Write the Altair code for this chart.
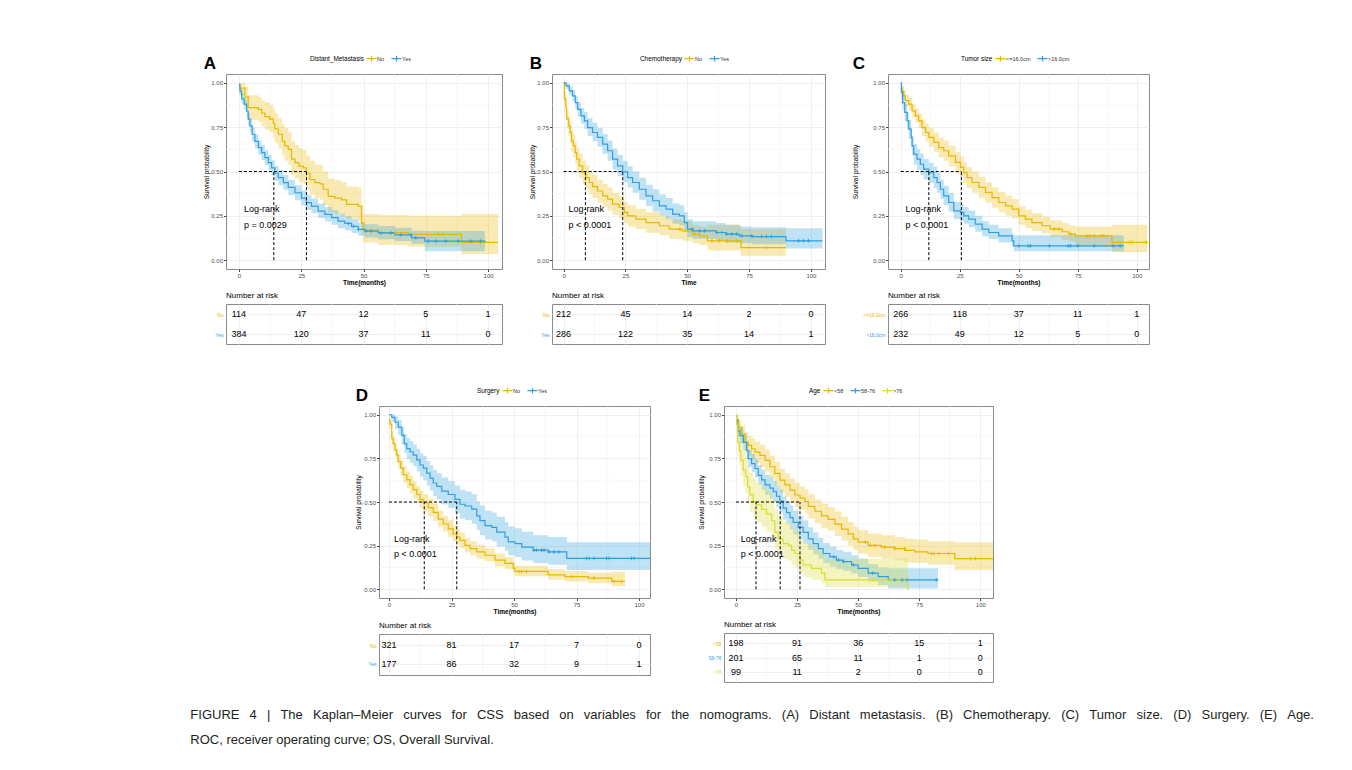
import json
import bisect
import altair as alt
import pandas as pd

FONT = "Liberation Sans"
ORANGE = "#E7B800"
BLUE = "#2E9FDF"
YELLOW = "#DCDC30"

X_TICKS = [0, 25, 50, 75, 100]
Y_TICKS = [0.0, 0.25, 0.50, 0.75, 1.0]
X_MINOR = [12.5, 37.5, 62.5, 87.5]
Y_MINOR = [0.125, 0.375, 0.625, 0.875]
RISK_TIMES = [0, 25, 50, 75, 100]
LOGRANK_X = 2.0
LOGRANK_Y = [0.29, 0.20]
Y_DOMAIN = [-0.05, 1.05]

# ---------------- Panel A : Distant_Metastasis ----------------
A_GROUPS = ["No", "Yes"]
A_NO_T = [0, 2.4, 3.7, 7.8, 9.1, 10.4, 12.4, 13.8, 14.4, 15.8, 17.4, 18.4, 19.8, 21.1, 22.5, 24.1, 25.8, 27.1, 28.5, 30.5,
          32.5, 33.8, 35.8, 38.5, 41.2, 43.2, 47.9, 49.2, 49.9, 55.9, 67.9, 89.3, 104]
A_NO_S = [0.97, 0.92, 0.86, 0.85, 0.83, 0.81, 0.795, 0.77, 0.74, 0.71, 0.67, 0.645, 0.625, 0.57, 0.55, 0.53, 0.52, 0.49,
          0.455, 0.437, 0.43, 0.40, 0.36, 0.35, 0.34, 0.315, 0.305, 0.21, 0.17, 0.155, 0.145, 0.10, 0.10]
A_NO_HI = [1.0, 0.98, 0.93, 0.92, 0.90, 0.89, 0.875, 0.855, 0.83, 0.80, 0.765, 0.745, 0.725, 0.67, 0.65, 0.63, 0.62, 0.59,
           0.56, 0.54, 0.535, 0.50, 0.46, 0.45, 0.44, 0.415, 0.41, 0.31, 0.26, 0.255, 0.25, 0.26, 0.26]
A_NO_LO = [0.93, 0.87, 0.79, 0.78, 0.755, 0.735, 0.72, 0.69, 0.66, 0.63, 0.59, 0.56, 0.54, 0.48, 0.46, 0.44, 0.43, 0.40,
           0.37, 0.35, 0.34, 0.31, 0.27, 0.26, 0.25, 0.23, 0.22, 0.14, 0.10, 0.085, 0.075, 0.035, 0.035]
A_YES_T = [0, 0.4, 1.1, 2.1, 3.1, 3.7, 4.4, 5.3, 6.4, 7.8, 9.1, 10.4, 11.8, 13.1, 14.4, 15.8, 17.8, 19.8, 22.5, 25.1,
           27.1, 29.1, 31.8, 34.5, 37.2, 39.8, 42.5, 45.2, 47.9, 50.5, 55.9, 62.6, 69.3, 74.6, 98.7]
A_YES_S = [0.99, 0.955, 0.91, 0.88, 0.84, 0.795, 0.757, 0.71, 0.67, 0.635, 0.606, 0.578, 0.55, 0.52, 0.49, 0.465, 0.437,
           0.41, 0.38, 0.35, 0.324, 0.305, 0.277, 0.258, 0.24, 0.22, 0.207, 0.19, 0.173, 0.164, 0.154, 0.143, 0.126, 0.107, 0.10]
A_YES_HI = [1.0, 0.975, 0.94, 0.91, 0.875, 0.83, 0.795, 0.75, 0.71, 0.675, 0.648, 0.62, 0.593, 0.563, 0.533, 0.508, 0.48,
            0.453, 0.423, 0.393, 0.367, 0.348, 0.32, 0.30, 0.282, 0.262, 0.248, 0.23, 0.213, 0.203, 0.193, 0.183, 0.166, 0.165, 0.165]
A_YES_LO = [0.98, 0.935, 0.88, 0.85, 0.805, 0.76, 0.72, 0.67, 0.63, 0.595, 0.565, 0.537, 0.508, 0.478, 0.448, 0.423, 0.395,
            0.368, 0.338, 0.308, 0.283, 0.265, 0.237, 0.218, 0.20, 0.18, 0.168, 0.152, 0.137, 0.128, 0.118, 0.108, 0.092, 0.05, 0.05]
A_NO_CENS = [63, 80, 82, 97]
A_YES_CENS = [44, 46, 48, 51, 53, 57, 61, 65, 69, 71, 76, 79, 83, 88, 93, 97]
A_MEDIANS = [27.1, 14.0]
A_P = "p = 0.0029"
A_RISK = [[114, 47, 12, 5, 1], [384, 120, 37, 11, 0]]

# ---------------- Panel B : Chemotherapy ----------------
B_GROUPS = ["No", "Yes"]
B_NO_T = [0, 0.3, 0.9, 1.2, 2.0, 2.6, 3.2, 3.9, 4.7, 5.3, 6.3, 7.7, 9.0, 10.4, 11.7, 13.7, 15.8, 17.8, 19.8, 22.5,
          24.5, 25.9, 29.2, 33.3, 38.7, 42.7, 48.1, 52.2, 54.9, 58.2, 71.7, 89.9]
B_NO_S = [1.0, 0.91, 0.86, 0.795, 0.757, 0.72, 0.673, 0.645, 0.607, 0.57, 0.532, 0.494, 0.466, 0.438, 0.415, 0.39, 0.363,
          0.344, 0.316, 0.297, 0.269, 0.25, 0.231, 0.212, 0.194, 0.175, 0.165, 0.147, 0.137, 0.109, 0.071, 0.071]
B_NO_HI = [1.0, 0.95, 0.91, 0.85, 0.815, 0.78, 0.735, 0.71, 0.67, 0.635, 0.60, 0.56, 0.535, 0.505, 0.48, 0.455, 0.43,
           0.41, 0.38, 0.36, 0.33, 0.31, 0.29, 0.27, 0.25, 0.23, 0.22, 0.20, 0.19, 0.20, 0.175, 0.175]
B_NO_LO = [1.0, 0.87, 0.81, 0.74, 0.70, 0.66, 0.61, 0.58, 0.545, 0.505, 0.465, 0.43, 0.40, 0.37, 0.35, 0.325, 0.30,
           0.28, 0.255, 0.235, 0.21, 0.19, 0.175, 0.155, 0.14, 0.12, 0.11, 0.095, 0.085, 0.055, 0.025, 0.025]
B_YES_T = [0, 0.9, 2.3, 3.6, 4.7, 5.7, 7.0, 8.4, 9.7, 11.7, 13.7, 15.8, 17.8, 19.8, 21.8, 23.9, 25.9, 27.9, 30.6, 33.3,
           36.0, 38.7, 41.4, 44.1, 46.8, 48.8, 50.1, 52.2, 61.6, 65.6, 71.0, 76.4, 89.9, 104.7]
B_YES_S = [1.0, 0.983, 0.955, 0.927, 0.889, 0.85, 0.814, 0.786, 0.748, 0.72, 0.692, 0.654, 0.617, 0.57, 0.532, 0.498,
           0.466, 0.438, 0.40, 0.363, 0.335, 0.306, 0.288, 0.26, 0.25, 0.212, 0.175, 0.165, 0.156, 0.147, 0.137, 0.133, 0.109, 0.109]
B_YES_HI = [1.0, 1.0, 0.98, 0.96, 0.925, 0.89, 0.86, 0.835, 0.80, 0.775, 0.745, 0.71, 0.675, 0.63, 0.595, 0.56, 0.53, 0.50,
            0.465, 0.425, 0.40, 0.37, 0.35, 0.32, 0.31, 0.27, 0.23, 0.22, 0.21, 0.20, 0.19, 0.185, 0.18, 0.18]
B_YES_LO = [1.0, 0.965, 0.93, 0.895, 0.85, 0.81, 0.77, 0.74, 0.70, 0.67, 0.64, 0.60, 0.56, 0.51, 0.475, 0.44, 0.41, 0.38,
            0.34, 0.305, 0.275, 0.25, 0.23, 0.205, 0.195, 0.16, 0.13, 0.12, 0.11, 0.10, 0.095, 0.09, 0.065, 0.065]
B_NO_CENS = [47, 53, 60, 63, 66, 70, 82]
B_YES_CENS = [52, 55, 57, 62, 64, 66, 68, 70, 72, 76, 80, 82, 84, 95, 97, 99]
B_MEDIANS = [8.8, 23.9]
B_P = "p < 0.0001"
B_RISK = [[212, 45, 14, 2, 0], [286, 122, 35, 14, 1]]

# ---------------- Panel C : Tumor size ----------------
C_GROUPS = ["<=16.0cm", ">16.0cm"]
C_SMALL_T = [0, 0.6, 1.3, 2.0, 3.4, 4.8, 6.2, 7.6, 9.0, 10.5, 11.9, 14.0, 16.1, 18.2, 20.3, 23.2, 25.3, 26.7, 28.1, 30.2,
             33.1, 35.9, 38.7, 41.5, 44.4, 47.2, 50.0, 52.8, 55.6, 59.9, 63.4, 68.4, 71.2, 74.0, 89.5, 104.5]
C_SMALL_S = [0.97, 0.955, 0.927, 0.90, 0.88, 0.842, 0.814, 0.786, 0.748, 0.72, 0.692, 0.664, 0.635, 0.617, 0.588, 0.551,
             0.523, 0.494, 0.466, 0.438, 0.41, 0.382, 0.353, 0.325, 0.306, 0.288, 0.25, 0.231, 0.212, 0.194, 0.175, 0.16,
             0.147, 0.137, 0.10, 0.10]
C_SMALL_HI = [1.0, 0.98, 0.955, 0.935, 0.915, 0.88, 0.855, 0.83, 0.795, 0.77, 0.745, 0.72, 0.69, 0.675, 0.645, 0.61, 0.585,
              0.555, 0.525, 0.50, 0.47, 0.44, 0.41, 0.385, 0.365, 0.345, 0.305, 0.285, 0.265, 0.245, 0.225, 0.21, 0.195,
              0.19, 0.20, 0.20]
C_SMALL_LO = [0.94, 0.93, 0.90, 0.865, 0.845, 0.805, 0.775, 0.745, 0.70, 0.67, 0.64, 0.61, 0.58, 0.56, 0.53, 0.49, 0.465,
              0.435, 0.405, 0.38, 0.35, 0.325, 0.295, 0.27, 0.25, 0.235, 0.20, 0.18, 0.165, 0.15, 0.13, 0.115, 0.105,
              0.075, 0.045, 0.045]
C_BIG_T = [0, 0.3, 0.8, 1.7, 2.7, 3.4, 4.4, 4.8, 5.5, 6.9, 8.3, 9.7, 11.9, 14.0, 15.4, 16.8, 18.2, 20.3, 22.5, 25.3,
           26.7, 28.8, 31.6, 34.5, 37.3, 41.5, 47.2, 47.9, 94.5]
C_BIG_S = [1.0, 0.946, 0.889, 0.833, 0.786, 0.739, 0.692, 0.645, 0.598, 0.57, 0.541, 0.513, 0.494, 0.466, 0.438, 0.40,
           0.363, 0.325, 0.278, 0.269, 0.25, 0.231, 0.203, 0.175, 0.156, 0.137, 0.109, 0.081, 0.081]
C_BIG_HI = [1.0, 0.975, 0.93, 0.88, 0.835, 0.79, 0.745, 0.70, 0.655, 0.625, 0.60, 0.57, 0.55, 0.525, 0.495, 0.455, 0.42,
            0.38, 0.33, 0.32, 0.30, 0.28, 0.25, 0.22, 0.20, 0.18, 0.15, 0.14, 0.14]
C_BIG_LO = [1.0, 0.915, 0.845, 0.785, 0.735, 0.685, 0.635, 0.59, 0.54, 0.51, 0.48, 0.455, 0.435, 0.405, 0.38, 0.345, 0.31,
            0.275, 0.23, 0.22, 0.205, 0.185, 0.16, 0.135, 0.12, 0.10, 0.075, 0.05, 0.05]
C_SMALL_CENS = [65, 67, 72, 79, 80, 82, 85, 86, 97, 98, 104]
C_BIG_CENS = [50, 54, 55, 63, 71, 72, 75, 82, 90, 93]
C_MEDIANS = [25.7, 11.9]
C_P = "p < 0.0001"
C_RISK = [[266, 118, 37, 11, 1], [232, 49, 12, 5, 0]]

# ---------------- Panel D : Surgery ----------------
D_GROUPS = ["No", "Yes"]
D_NO_T = [0, 0.4, 1.1, 1.7, 2.4, 3.1, 3.7, 4.7, 5.7, 7.1, 8.4, 9.7, 11.1, 12.4, 13.7, 15.7, 17.7, 19.7, 21.7, 23.7,
          25.7, 27.1, 28.4, 30.4, 32.4, 35.1, 38.4, 42.4, 46.4, 49.7, 50.4, 63.7, 70.4, 79.7, 89.1, 94.4]
D_NO_S = [0.97, 0.947, 0.863, 0.835, 0.797, 0.769, 0.731, 0.694, 0.656, 0.628, 0.60, 0.571, 0.543, 0.515, 0.496, 0.468,
          0.44, 0.402, 0.374, 0.346, 0.318, 0.299, 0.28, 0.252, 0.233, 0.214, 0.195, 0.167, 0.148, 0.12, 0.102, 0.083,
          0.073, 0.064, 0.045, 0.045]
D_NO_HI = [1.0, 0.975, 0.90, 0.875, 0.84, 0.81, 0.775, 0.74, 0.705, 0.675, 0.65, 0.62, 0.59, 0.565, 0.545, 0.52, 0.49,
           0.45, 0.42, 0.395, 0.365, 0.345, 0.325, 0.295, 0.275, 0.255, 0.235, 0.205, 0.185, 0.155, 0.135, 0.115, 0.105,
           0.095, 0.10, 0.10]
D_NO_LO = [0.94, 0.92, 0.825, 0.795, 0.755, 0.725, 0.69, 0.65, 0.61, 0.58, 0.55, 0.52, 0.495, 0.465, 0.445, 0.42, 0.39,
           0.355, 0.33, 0.30, 0.275, 0.255, 0.235, 0.21, 0.195, 0.175, 0.16, 0.13, 0.115, 0.09, 0.075, 0.055, 0.045,
           0.035, 0.017, 0.017]
D_YES_T = [0, 1.1, 2.4, 3.7, 5.1, 6.1, 7.1, 8.4, 9.7, 11.1, 12.4, 13.7, 15.1, 16.4, 17.7, 19.1, 21.1, 23.7, 26.4, 28.4,
           30.4, 33.1, 35.1, 36.4, 38.4, 41.1, 43.1, 46.4, 47.7, 50.4, 53.1, 57.7, 63.7, 71.1, 104.4]
D_YES_S = [1.0, 0.985, 0.957, 0.929, 0.882, 0.835, 0.806, 0.788, 0.769, 0.741, 0.712, 0.694, 0.665, 0.637, 0.609, 0.59,
           0.562, 0.543, 0.515, 0.487, 0.477, 0.459, 0.421, 0.393, 0.365, 0.355, 0.327, 0.299, 0.271, 0.261, 0.242, 0.224,
           0.214, 0.177, 0.177]
D_YES_HI = [1.0, 1.0, 0.99, 0.97, 0.93, 0.89, 0.865, 0.85, 0.83, 0.805, 0.78, 0.765, 0.735, 0.71, 0.685, 0.665, 0.64,
            0.62, 0.595, 0.57, 0.56, 0.545, 0.505, 0.48, 0.45, 0.44, 0.415, 0.385, 0.36, 0.35, 0.33, 0.31, 0.30, 0.27, 0.27]
D_YES_LO = [1.0, 0.96, 0.92, 0.885, 0.83, 0.78, 0.745, 0.725, 0.705, 0.675, 0.645, 0.625, 0.595, 0.565, 0.535, 0.515,
            0.485, 0.465, 0.435, 0.405, 0.395, 0.375, 0.34, 0.31, 0.285, 0.275, 0.245, 0.22, 0.195, 0.185, 0.165, 0.15,
            0.14, 0.11, 0.11]
D_NO_CENS = [52, 53, 55, 73, 82, 90, 93]
D_YES_CENS = [58, 59, 61, 62, 64, 66, 68, 79, 80, 82, 87, 88, 97, 98]
D_MEDIANS = [14.1, 27.1]
D_P = "p < 0.0001"
D_RISK = [[321, 81, 17, 7, 0], [177, 86, 32, 9, 1]]

# ---------------- Panel E : Age ----------------
E_GROUPS = ["<58", "58-76", ">76"]
E_Y_T = [0, 1.0, 2.3, 3.7, 5.0, 6.4, 7.8, 9.8, 11.9, 13.9, 15.9, 18.0, 20.0, 22.1, 24.1, 26.2, 28.2, 29.6, 32.3, 35.0,
         37.7, 40.5, 43.2, 45.9, 48.0, 50.0, 54.1, 59.5, 65.0, 69.1, 73.2, 78.6, 89.5, 105.2]
E_Y_S = [0.97, 0.927, 0.89, 0.842, 0.824, 0.805, 0.786, 0.767, 0.739, 0.702, 0.664, 0.625, 0.598, 0.568, 0.54, 0.522,
         0.503, 0.475, 0.447, 0.42, 0.40, 0.373, 0.345, 0.317, 0.289, 0.27, 0.251, 0.242, 0.233, 0.223, 0.214, 0.205,
         0.176, 0.176]
E_Y_HI = [1.0, 0.97, 0.94, 0.90, 0.88, 0.865, 0.845, 0.83, 0.80, 0.765, 0.73, 0.69, 0.665, 0.635, 0.61, 0.59, 0.575,
          0.545, 0.515, 0.49, 0.47, 0.445, 0.415, 0.385, 0.36, 0.34, 0.32, 0.31, 0.30, 0.29, 0.285, 0.275, 0.27, 0.27]
E_Y_LO = [0.94, 0.885, 0.84, 0.785, 0.765, 0.745, 0.725, 0.70, 0.675, 0.635, 0.595, 0.555, 0.53, 0.50, 0.47, 0.455, 0.435,
          0.405, 0.38, 0.35, 0.335, 0.305, 0.28, 0.25, 0.225, 0.205, 0.185, 0.175, 0.165, 0.155, 0.15, 0.14, 0.11, 0.11]
E_M_T = [0, 0.7, 1.6, 3.0, 4.4, 5.0, 6.4, 7.8, 9.1, 10.5, 11.9, 13.9, 15.3, 16.6, 18.0, 19.3, 20.7, 22.1, 23.4, 25.5,
         27.5, 29.6, 31.6, 33.7, 35.7, 38.4, 41.1, 43.9, 47.3, 50.0, 54.1, 58.2, 62.3, 82.7]
E_M_S = [0.97, 0.908, 0.88, 0.842, 0.795, 0.749, 0.72, 0.692, 0.653, 0.627, 0.598, 0.58, 0.559, 0.533, 0.505, 0.465,
         0.439, 0.411, 0.383, 0.355, 0.326, 0.289, 0.261, 0.233, 0.205, 0.186, 0.167, 0.158, 0.139, 0.12, 0.092, 0.073,
         0.054, 0.054]
E_M_HI = [1.0, 0.95, 0.925, 0.89, 0.845, 0.80, 0.775, 0.745, 0.71, 0.685, 0.655, 0.64, 0.62, 0.595, 0.57, 0.53, 0.505,
          0.48, 0.45, 0.42, 0.395, 0.355, 0.325, 0.295, 0.265, 0.245, 0.225, 0.215, 0.195, 0.175, 0.145, 0.125, 0.12, 0.12]
E_M_LO = [0.94, 0.865, 0.835, 0.795, 0.745, 0.70, 0.67, 0.64, 0.60, 0.57, 0.54, 0.52, 0.50, 0.47, 0.44, 0.40, 0.375,
          0.345, 0.315, 0.29, 0.26, 0.225, 0.20, 0.175, 0.15, 0.13, 0.115, 0.105, 0.09, 0.07, 0.045, 0.025, 0.005, 0.005]
E_O_T = [0, 0.3, 0.7, 1.4, 2.0, 3.0, 4.0, 4.8, 5.7, 7.1, 8.4, 10.5, 12.5, 14.6, 15.9, 17.3, 19.3, 21.4, 22.8, 24.1,
         26.2, 27.5, 30.9, 35.0, 36.4, 70.4, 70.7]
E_O_S = [0.99, 0.946, 0.842, 0.795, 0.739, 0.683, 0.645, 0.587, 0.542, 0.503, 0.484, 0.458, 0.43, 0.392, 0.326, 0.289,
         0.261, 0.251, 0.223, 0.205, 0.167, 0.139, 0.12, 0.092, 0.054, 0.0, 0.0]
E_O_HI = [1.0, 1.0, 0.93, 0.89, 0.84, 0.79, 0.755, 0.705, 0.665, 0.63, 0.61, 0.585, 0.56, 0.52, 0.455, 0.42, 0.39, 0.38,
          0.35, 0.33, 0.29, 0.26, 0.24, 0.20, 0.175, 0.0, 0.0]
E_O_LO = [0.97, 0.89, 0.76, 0.71, 0.65, 0.59, 0.55, 0.49, 0.445, 0.405, 0.385, 0.36, 0.33, 0.295, 0.235, 0.20, 0.175,
          0.165, 0.14, 0.125, 0.095, 0.07, 0.055, 0.035, 0.015, 0.0, 0.0]
E_Y_CENS = [53, 55, 57, 61, 65, 69, 80, 81, 83, 87, 96, 98]
E_M_CENS = [40, 42, 44, 48, 56, 65, 68, 70, 82]
E_O_CENS = [56]
E_MEDIANS = [26.2, 18.1, 8.2]
E_P = "p < 0.0001"
E_RISK = [[198, 91, 36, 15, 1], [201, 65, 11, 1, 0], [99, 11, 2, 0, 0]]

CAPTION_LINE1 = ("FIGURE 4 | The Kaplan–Meier curves for CSS based on variables for the nomograms. "
                 "(A) Distant metastasis. (B) Chemotherapy. (C) Tumor size. (D) Surgery. (E) Age.")
CAPTION_LINE2 = "ROC, receiver operating curve; OS, Overall Survival."
# first caption line is justified in the original: widen its word gaps
CAPTION = [CAPTION_LINE1.replace(" ", " \u2002"), CAPTION_LINE2]

PLUS = "M-1,0L1,0M0,-1L0,1"
KEY = "M-2,0L2,0M0,-1.1L0,1.1"


def surv_at(T, S, x):
    i = bisect.bisect_right(T, x) - 1
    return S[max(i, 0)]


def km_chart(letter, legend_title, groups, colors, curves, censors, medians, ptext,
             xdom, width, height, legend_x, ytitle_pad, xtitle):
    rows, crow = [], []
    for g, (T, S, LO, HI), cens in zip(groups, curves, censors):
        assert len(T) == len(S) == len(LO) == len(HI), (letter, g)
        rows += [dict(group=g, t=t, s=s, lo=lo, hi=hi) for t, s, lo, hi in zip(T, S, LO, HI)]
        crow += [dict(group=g, t=c, s=surv_at(T, S, c)) for c in cens if c <= T[-1]]
    df = pd.DataFrame(rows)
    dfc = pd.DataFrame(crow)
    mrow = [dict(t=0, t2=max(medians), s=0.5, s2=0.5)] + [dict(t=m, t2=m, s=0.0, s2=0.5) for m in medians]
    dfm = pd.DataFrame(mrow)
    dft = pd.DataFrame({"t": [LOGRANK_X, LOGRANK_X], "s": LOGRANK_Y, "label": ["Log-rank", ptext]})

    xs = alt.Scale(domain=xdom, nice=False, zero=False)
    ys = alt.Scale(domain=Y_DOMAIN, nice=False, zero=False)
    xaxis = alt.Axis(values=X_TICKS, title=xtitle, format="d", labelFontSize=6, titleFontSize=6.5,
                     titleFontWeight="bold", tickSize=2.5, labelPadding=1, titlePadding=1, grid=True)
    yaxis = alt.Axis(values=Y_TICKS, title="Survival probability", format=".2f", labelFontSize=6,
                     titleFontSize=6.5, titleFontWeight="normal", tickSize=2.5, labelPadding=1,
                     titlePadding=ytitle_pad, grid=True)

    def X(f="t"):
        return alt.X(f"{f}:Q", scale=xs, axis=xaxis)

    def Y(f="s"):
        return alt.Y(f"{f}:Q", scale=ys, axis=yaxis)

    cscale = alt.Scale(domain=groups, range=colors)
    leg = alt.Legend(title=legend_title, orient="none", legendX=legend_x, legendY=-19, direction="horizontal",
                     titleOrient="left", titleFontSize=6.4, titleFontWeight="normal", titleColor="#000000",
                     titleFont=FONT, titlePadding=4, labelFontSize=5.5, labelFont=FONT, labelColor="#333333",
                     labelOffset=2, columnPadding=4, symbolType=KEY, symbolSize=25, symbolStrokeWidth=1.2,
                     symbolOpacity=1)
    col = alt.Color("group:N", scale=cscale, legend=leg)

    minor_x = alt.Chart(pd.DataFrame({"t": X_MINOR})).mark_rule(color="#F4F4F4", strokeWidth=0.6).encode(x=X())
    minor_y = alt.Chart(pd.DataFrame({"s": Y_MINOR})).mark_rule(color="#F4F4F4", strokeWidth=0.6).encode(y=Y())
    band = alt.Chart(df).mark_area(interpolate="step-after", opacity=0.3, clip=True).encode(
        x=X(), y=Y("lo"), y2="hi:Q", color=col)
    line = alt.Chart(df).mark_line(interpolate="step-after", strokeWidth=1.2, clip=True).encode(
        x=X(), y=Y(), color=col)
    cens = alt.Chart(dfc).mark_point(shape=PLUS, size=14, strokeWidth=0.9, filled=False, opacity=1, clip=True).encode(
        x=X(), y=Y(), color=col)
    med = alt.Chart(dfm).mark_rule(color="black", strokeDash=[3, 2], strokeWidth=1).encode(
        x=X(), x2="t2:Q", y=Y(), y2="s2:Q")
    txt = alt.Chart(dft).mark_text(align="left", baseline="middle", fontSize=9, font=FONT, color="black").encode(
        x=X(), y=Y(), text="label:N")
    return alt.layer(minor_x, minor_y, band, line, cens, med, txt).properties(
        width=width, height=height,
        title=alt.TitleParams(letter, anchor="start", frame="bounds", fontSize=17, fontWeight="bold",
                              font=FONT, color="black", offset=-18),
    )


def risk_table(groups, colors, counts, xdom, width, height, pad):
    rows = [dict(group=g, t=t, n=str(n)) for g, cs in zip(groups, counts) for t, n in zip(RISK_TIMES, cs)]
    df = pd.DataFrame(rows)
    expr = f"{json.dumps(colors)}[indexof({json.dumps(groups)}, datum.value)]"
    xs = alt.Scale(domain=xdom, nice=False, zero=False)
    xaxis = alt.Axis(values=X_TICKS, labels=False, ticks=False, domain=False, title=None, grid=True)
    yscale = alt.Scale(type="point", domain=groups, padding=pad)
    yaxis = alt.Axis(title=None, labelColor=alt.ExprRef(expr), labelFontSize=5, labelFont=FONT, ticks=False,
                     domain=False, grid=True, labelPadding=3)
    minor = alt.Chart(pd.DataFrame({"t": X_MINOR})).mark_rule(color="#F4F4F4", strokeWidth=0.6).encode(
        x=alt.X("t:Q", scale=xs, axis=xaxis))
    txt = alt.Chart(df).mark_text(fontSize=9, font=FONT, color="black").encode(
        x=alt.X("t:Q", scale=xs, axis=xaxis),
        y=alt.Y("group:N", scale=yscale, axis=yaxis, sort=groups),
        text="n:N",
    )
    return alt.layer(minor, txt).properties(
        width=width, height=height,
        title=alt.TitleParams("Number at risk", anchor="start", frame="group", fontSize=8, fontWeight="normal",
                              font=FONT, color="black", offset=4),
    )


def panel(letter, legend_title, groups, colors, curves, censors, medians, ptext, risk,
          xdom, width, height, legend_x, ytitle_pad, xtitle, tab_h, tab_pad, gap):
    km = km_chart(letter, legend_title, groups, colors, curves, censors, medians, ptext,
                  xdom, width, height, legend_x, ytitle_pad, xtitle)
    tab = risk_table(groups, colors, risk, xdom, width, tab_h, tab_pad)
    return alt.vconcat(km, tab, spacing=gap, bounds="flush").resolve_scale(color="independent").resolve_legend(
        color="independent")


pA = panel("A", "Distant_Metastasis", A_GROUPS, [ORANGE, BLUE],
           [(A_NO_T, A_NO_S, A_NO_LO, A_NO_HI), (A_YES_T, A_YES_S, A_YES_LO, A_YES_HI)],
           [A_NO_CENS, A_YES_CENS], A_MEDIANS, A_P, A_RISK,
           [-5.2, 105.6], 276, 195, 84, 1, "Time(months)", 40, 0.5, 35)
pB = panel("B", "Chemotherapy", B_GROUPS, [ORANGE, BLUE],
           [(B_NO_T, B_NO_S, B_NO_LO, B_NO_HI), (B_YES_T, B_YES_S, B_YES_LO, B_YES_HI)],
           [B_NO_CENS, B_YES_CENS], B_MEDIANS, B_P, B_RISK,
           [-4.7, 105.7], 273, 195, 88, 1, "Time", 40, 0.5, 35)
pC = panel("C", "Tumor size", C_GROUPS, [ORANGE, BLUE],
           [(C_SMALL_T, C_SMALL_S, C_SMALL_LO, C_SMALL_HI), (C_BIG_T, C_BIG_S, C_BIG_LO, C_BIG_HI)],
           [C_SMALL_CENS, C_BIG_CENS], C_MEDIANS, C_P, C_RISK,
           [-5.4, 105.2], 261, 195, 73, 14, "Time(months)", 40, 0.5, 35)
pD = panel("D", "Surgery", D_GROUPS, [ORANGE, BLUE],
           [(D_NO_T, D_NO_S, D_NO_LO, D_NO_HI), (D_YES_T, D_YES_S, D_YES_LO, D_YES_HI)],
           [D_NO_CENS, D_YES_CENS], D_MEDIANS, D_P, D_RISK,
           [-4.0, 104.4], 271, 192, 98, 2, "Time(months)", 41, 0.58, 36)
pE = panel("E", "Age", E_GROUPS, [ORANGE, BLUE, YELLOW],
           [(E_Y_T, E_Y_S, E_Y_LO, E_Y_HI), (E_M_T, E_M_S, E_M_LO, E_M_HI), (E_O_T, E_O_S, E_O_LO, E_O_HI)],
           [E_Y_CENS, E_M_CENS, E_O_CENS], E_MEDIANS, E_P, E_RISK,
           [-4.9, 105.2], 269, 192, 85, 4, "Time(months)", 49, 0.7, 35)

spacer = alt.Chart(pd.DataFrame({"t": [0]})).mark_point(opacity=0).encode(
    x=alt.X("t:Q", axis=None)).properties(width=82, height=20, view=alt.ViewBackground(strokeOpacity=0))

row1 = alt.hconcat(pA, pB, pC, spacing=26).resolve_scale(color="independent").resolve_legend(color="independent")
row2 = alt.hconcat(spacer, pD, pE, spacing=47).resolve_scale(color="independent").resolve_legend(color="independent")

chart = alt.vconcat(
    row1, row2, spacing=41,
    title=alt.TitleParams(CAPTION, orient="bottom", anchor="start", frame="bounds", fontSize=13,
                          fontWeight="normal", font=FONT, color="#231F20", lineHeight=25, dx=-13, offset=26),
).resolve_scale(color="independent").resolve_legend(color="independent").properties(
    padding={"left": 182, "top": 46, "right": 5, "bottom": 5}
).configure_view(stroke="#8A8A8A", strokeWidth=1).configure_axis(
    gridColor="#EBEBEB", gridWidth=0.8, tickColor="#444444", labelColor="#4D4D4D", titleColor="#000000",
    labelFont=FONT, titleFont=FONT, domain=False,
)

chart.save("out.html", embed_options={"renderer": "svg", "actions": False})
